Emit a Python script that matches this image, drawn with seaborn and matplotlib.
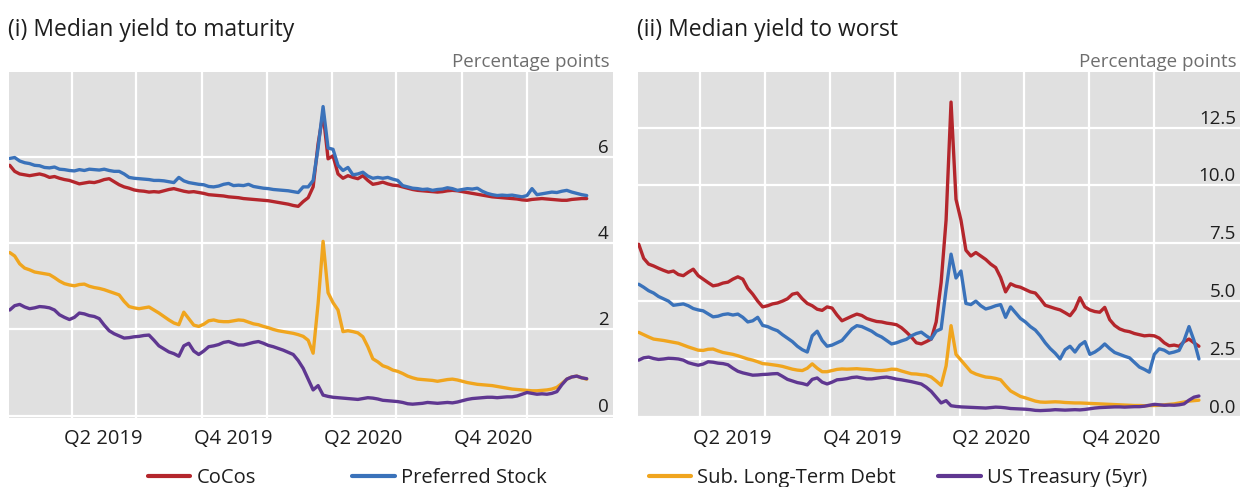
import pandas as pd
import matplotlib.pyplot as plt
from matplotlib.lines import Line2D
import seaborn as sns

# weekly observations, Jan 2019 - Mar 2021
dates = pd.date_range("2019-01-04", periods=117, freq="7D")

# (i) median yield to maturity
cocos_ytm = [5.80, 5.66, 5.60, 5.58, 5.56, 5.58, 5.60, 5.57, 5.52, 5.54,
             5.50, 5.47, 5.45, 5.41, 5.37, 5.39, 5.41, 5.40, 5.43, 5.47,
             5.49, 5.42, 5.35, 5.30, 5.27, 5.23, 5.21, 5.20, 5.18, 5.19,
             5.18, 5.21, 5.24, 5.26, 5.23, 5.20, 5.18, 5.19, 5.17, 5.15,
             5.12, 5.11, 5.10, 5.09, 5.07, 5.06, 5.05, 5.03, 5.02, 5.01,
             5.00, 4.99, 4.98, 4.96, 4.94, 4.92, 4.90, 4.87, 4.85, 4.96,
             5.05, 5.30, 6.30, 7.00, 5.95, 6.02, 5.60, 5.50, 5.56, 5.52,
             5.49, 5.56, 5.45, 5.36, 5.38, 5.41, 5.37, 5.34, 5.33, 5.30,
             5.27, 5.24, 5.22, 5.21, 5.20, 5.19, 5.18, 5.19, 5.21, 5.22,
             5.21, 5.19, 5.17, 5.15, 5.13, 5.11, 5.09, 5.07, 5.06, 5.05,
             5.04, 5.03, 5.02, 5.00, 4.99, 5.01, 5.02, 5.03, 5.02, 5.01,
             5.00, 4.99, 4.99, 5.01, 5.02, 5.03, 5.03]
pref_ytm = [5.96, 5.98, 5.90, 5.86, 5.84, 5.80, 5.79, 5.75, 5.74, 5.76,
            5.71, 5.70, 5.68, 5.67, 5.70, 5.68, 5.71, 5.70, 5.69, 5.71,
            5.68, 5.66, 5.66, 5.60, 5.52, 5.50, 5.49, 5.48, 5.47, 5.45,
            5.45, 5.44, 5.42, 5.40, 5.52, 5.44, 5.40, 5.38, 5.36, 5.35,
            5.31, 5.30, 5.32, 5.36, 5.38, 5.33, 5.34, 5.33, 5.36, 5.31,
            5.29, 5.27, 5.26, 5.24, 5.23, 5.22, 5.21, 5.19, 5.17, 5.30,
            5.30, 5.45, 6.20, 7.16, 6.20, 6.17, 5.80, 5.68, 5.75, 5.58,
            5.60, 5.64, 5.55, 5.50, 5.52, 5.50, 5.52, 5.48, 5.45, 5.33,
            5.30, 5.27, 5.26, 5.24, 5.25, 5.22, 5.24, 5.25, 5.28, 5.26,
            5.22, 5.24, 5.26, 5.25, 5.27, 5.20, 5.15, 5.12, 5.10, 5.11,
            5.10, 5.11, 5.09, 5.07, 5.10, 5.26, 5.12, 5.14, 5.16, 5.18,
            5.17, 5.20, 5.22, 5.18, 5.15, 5.12, 5.10]
sub_ytm = [3.78, 3.70, 3.52, 3.42, 3.38, 3.33, 3.31, 3.29, 3.27, 3.20,
           3.12, 3.06, 3.03, 3.01, 3.04, 3.05, 3.00, 2.97, 2.95, 2.92,
           2.88, 2.84, 2.80, 2.65, 2.53, 2.50, 2.48, 2.50, 2.52, 2.45,
           2.38, 2.30, 2.22, 2.15, 2.11, 2.40, 2.25, 2.10, 2.07, 2.12,
           2.20, 2.22, 2.19, 2.18, 2.18, 2.20, 2.22, 2.21, 2.17, 2.13,
           2.11, 2.07, 2.04, 2.00, 1.97, 1.95, 1.93, 1.91, 1.88, 1.84,
           1.75, 1.45, 2.60, 4.04, 2.85, 2.62, 2.45, 1.95, 1.97, 1.95,
           1.92, 1.83, 1.60, 1.32, 1.25, 1.16, 1.12, 1.06, 1.03, 0.98,
           0.92, 0.88, 0.85, 0.84, 0.83, 0.82, 0.80, 0.82, 0.84, 0.85,
           0.83, 0.80, 0.77, 0.75, 0.73, 0.72, 0.71, 0.70, 0.68, 0.66,
           0.64, 0.62, 0.61, 0.60, 0.59, 0.58, 0.58, 0.59, 0.60, 0.62,
           0.66, 0.75, 0.85, 0.90, 0.92, 0.88, 0.85]
ust_5yr = [2.45, 2.55, 2.58, 2.52, 2.48, 2.50, 2.53, 2.52, 2.50, 2.45,
           2.34, 2.28, 2.23, 2.28, 2.38, 2.36, 2.32, 2.30, 2.25, 2.10,
           1.97, 1.90, 1.85, 1.80, 1.81, 1.83, 1.84, 1.86, 1.87, 1.75,
           1.62, 1.55, 1.48, 1.44, 1.38, 1.62, 1.68, 1.50, 1.42, 1.50,
           1.60, 1.62, 1.65, 1.70, 1.72, 1.68, 1.64, 1.64, 1.67, 1.70,
           1.72, 1.68, 1.63, 1.60, 1.56, 1.52, 1.47, 1.42, 1.28, 1.10,
           0.85, 0.60, 0.70, 0.48, 0.45, 0.43, 0.42, 0.41, 0.40, 0.39,
           0.38, 0.40, 0.42, 0.41, 0.39, 0.36, 0.35, 0.34, 0.33, 0.31,
           0.28, 0.27, 0.28, 0.29, 0.31, 0.30, 0.29, 0.30, 0.31, 0.30,
           0.32, 0.35, 0.38, 0.40, 0.41, 0.42, 0.43, 0.43, 0.42, 0.43,
           0.44, 0.44, 0.46, 0.50, 0.54, 0.52, 0.50, 0.51, 0.50, 0.52,
           0.56, 0.72, 0.85, 0.90, 0.92, 0.88, 0.86]

# (ii) median yield to worst (ends a little earlier)
cocos_ytw = [7.46, 6.85, 6.60, 6.52, 6.42, 6.33, 6.25, 6.30, 6.15, 6.10,
             6.25, 6.38, 6.10, 5.95, 5.80, 5.66, 5.70, 5.78, 5.82, 5.95,
             6.05, 5.95, 5.55, 5.30, 5.00, 4.75, 4.80, 4.88, 4.92, 5.00,
             5.10, 5.30, 5.35, 5.10, 4.90, 4.80, 4.65, 4.60, 4.75, 4.70,
             4.40, 4.15, 4.25, 4.35, 4.44, 4.38, 4.25, 4.18, 4.12, 4.10,
             4.05, 4.02, 3.98, 3.85, 3.66, 3.45, 3.20, 3.15, 3.25, 3.36,
             4.10, 5.80, 8.50, 13.6, 9.40, 8.50, 7.20, 6.95, 7.10, 6.95,
             6.80, 6.60, 6.45, 6.02, 5.40, 5.75, 5.65, 5.60, 5.50, 5.40,
             5.35, 5.10, 4.82, 4.75, 4.68, 4.62, 4.50, 4.37, 4.65, 5.15,
             4.75, 4.62, 4.55, 4.52, 4.73, 4.20, 3.95, 3.80, 3.72, 3.68,
             3.60, 3.55, 3.50, 3.52, 3.50, 3.40, 3.20, 3.07, 3.10, 3.05,
             3.25, 3.36, 3.20, 3.05]
pref_ytw = [5.73, 5.60, 5.45, 5.35, 5.20, 5.10, 5.00, 4.82, 4.85, 4.88,
            4.80, 4.68, 4.62, 4.58, 4.45, 4.32, 4.35, 4.42, 4.45, 4.40,
            4.44, 4.30, 4.10, 4.15, 4.30, 3.95, 3.90, 3.80, 3.72, 3.55,
            3.40, 3.25, 3.05, 2.90, 2.80, 3.50, 3.70, 3.30, 3.05, 3.10,
            3.20, 3.30, 3.55, 3.80, 3.94, 3.90, 3.80, 3.70, 3.55, 3.45,
            3.30, 3.15, 3.20, 3.28, 3.35, 3.50, 3.60, 3.66, 3.50, 3.36,
            3.70, 3.80, 5.50, 7.03, 6.00, 6.30, 4.90, 4.85, 5.00, 4.80,
            4.66, 4.72, 4.80, 4.85, 4.30, 4.75, 4.50, 4.25, 4.10, 3.90,
            3.75, 3.50, 3.20, 2.95, 2.75, 2.50, 2.90, 3.05, 2.80, 3.10,
            3.25, 2.70, 2.80, 2.95, 3.15, 2.95, 2.78, 2.70, 2.62, 2.55,
            2.35, 2.15, 2.05, 1.93, 2.70, 2.94, 2.88, 2.75, 2.80, 2.87,
            3.30, 3.90, 3.30, 2.50]
sub_ytw = [3.65, 3.55, 3.45, 3.36, 3.33, 3.30, 3.26, 3.22, 3.18, 3.10,
           3.02, 2.95, 2.88, 2.87, 2.92, 2.93, 2.85, 2.78, 2.74, 2.70,
           2.64, 2.57, 2.50, 2.45, 2.38, 2.30, 2.28, 2.25, 2.22, 2.18,
           2.12, 2.06, 2.02, 2.00, 2.10, 2.29, 2.10, 1.95, 1.95, 2.00,
           2.05, 2.07, 2.06, 2.07, 2.08, 2.06, 2.05, 2.03, 2.00, 2.00,
           2.02, 2.06, 2.05, 1.98, 1.92, 1.86, 1.85, 1.82, 1.80, 1.72,
           1.55, 1.36, 2.20, 3.94, 2.70, 2.45, 2.20, 1.95, 1.85, 1.78,
           1.72, 1.70, 1.66, 1.60, 1.35, 1.12, 1.00, 0.88, 0.82, 0.75,
           0.68, 0.64, 0.63, 0.64, 0.65, 0.64, 0.62, 0.61, 0.60, 0.60,
           0.59, 0.58, 0.57, 0.56, 0.55, 0.54, 0.53, 0.52, 0.51, 0.50,
           0.49, 0.49, 0.48, 0.49, 0.49, 0.50, 0.52, 0.54, 0.56, 0.60,
           0.64, 0.68, 0.70, 0.72]
ust_5yr_ytw = ust_5yr[:len(sub_ytw)]

names = ["CoCos", "Preferred Stock", "Sub. Long-Term Debt", "US Treasury (5yr)"]
colors = ["#b4262c", "#3a72ba", "#f0a51e", "#5f3791"]

quarter_starts = pd.to_datetime(["2019-04-01", "2019-07-01", "2019-10-01", "2020-01-01",
                                 "2020-04-01", "2020-07-01", "2020-10-01", "2021-01-01"])
label_pos = pd.to_datetime(["2019-05-16", "2019-11-15", "2020-05-16", "2020-11-15"])
label_txt = ["Q2 2019", "Q4 2019", "Q2 2020", "Q4 2020"]


def long_frame(cols):
    parts = []
    for name, vals in zip(names, cols):
        parts.append(pd.DataFrame({"date": dates[:len(vals)], "value": vals, "series": name}))
    return pd.concat(parts, ignore_index=True)


df_ytm = long_frame([cocos_ytm, pref_ytm, sub_ytm, ust_5yr])
df_ytw = long_frame([cocos_ytw, pref_ytw, sub_ytw, ust_5yr_ytw])

sns.set_style("white")
plt.rcParams['font.family'] = ['Open Sans', 'DejaVu Sans']
text_col = "#1e1e1e"

fig = plt.figure(figsize=(12.45, 4.87), dpi=100)
ax1 = fig.add_axes([9 / 1245, 69 / 487, 604 / 1245, 346 / 487])
ax2 = fig.add_axes([638 / 1245, 69 / 487, 602 / 1245, 346 / 487])


def draw_panel(ax, df, title, yticks, ylabels, ylim, legend_idx, legend_x, colspace):
    sns.lineplot(data=df, x="date", y="value", hue="series", hue_order=names,
                 palette=colors, linewidth=2.4, ax=ax, legend=False)
    ax.set_facecolor("#e0e0e0")
    for sp in ax.spines.values():
        sp.set_visible(False)
    ax.set_xlim(pd.Timestamp("2019-01-03"), pd.Timestamp("2021-05-02"))
    ax.set_ylim(*ylim)
    ax.set_xlabel("")
    ax.set_ylabel("")

    ax.set_xticks(quarter_starts)
    ax.set_xticks(label_pos, labels=label_txt, minor=True)
    ax.tick_params(axis="x", which="major", direction="in", length=9.5, width=1.3,
                   color="#3c3c3c", labelbottom=False)
    ax.tick_params(axis="x", which="minor", length=0, pad=8, labelsize=14.5,
                   labelcolor=text_col)
    ax.grid(True, which="major", color="white", linewidth=1.6)
    ax.grid(False, which="minor")

    ax.yaxis.tick_right()
    ax.set_yticks(yticks, labels=ylabels)
    ax.tick_params(axis="y", length=0, pad=-3, labelsize=13.5, labelcolor=text_col)
    for lab in ax.get_yticklabels():
        lab.set_horizontalalignment("right")
        lab.set_verticalalignment("bottom")

    ax.text(-0.002, 1.12, title, transform=ax.transAxes, fontsize=16.5,
            ha="left", va="center", color=text_col)
    ax.text(0.995, 1.03, "Percentage points", transform=ax.transAxes, fontsize=13.5,
            ha="right", va="center", color="#6e6e6e")

    handles = [Line2D([0], [0], color=colors[i], lw=3) for i in legend_idx]
    ax.legend(handles, [names[i] for i in legend_idx], loc="center left",
              bbox_to_anchor=(legend_x, -0.174), ncol=2, frameon=False,
              fontsize=14.5, handlelength=2.1, handletextpad=0.3,
              columnspacing=colspace, labelcolor=text_col)


draw_panel(ax1, df_ytm, "(i) Median yield to maturity", [0, 2, 4, 6],
           ["0", "2", "4", "6"], (-0.05, 7.96), [0, 1], 0.200, 4.8)
draw_panel(ax2, df_ytw, "(ii) Median yield to worst", [0, 2.5, 5, 7.5, 10, 12.5],
           ["0.0", "2.5", "5.0", "7.5", "10.0", "12.5"], (-0.05, 14.9), [2, 3], -0.012, 2.1)

fig.savefig("out.png", dpi=100)
